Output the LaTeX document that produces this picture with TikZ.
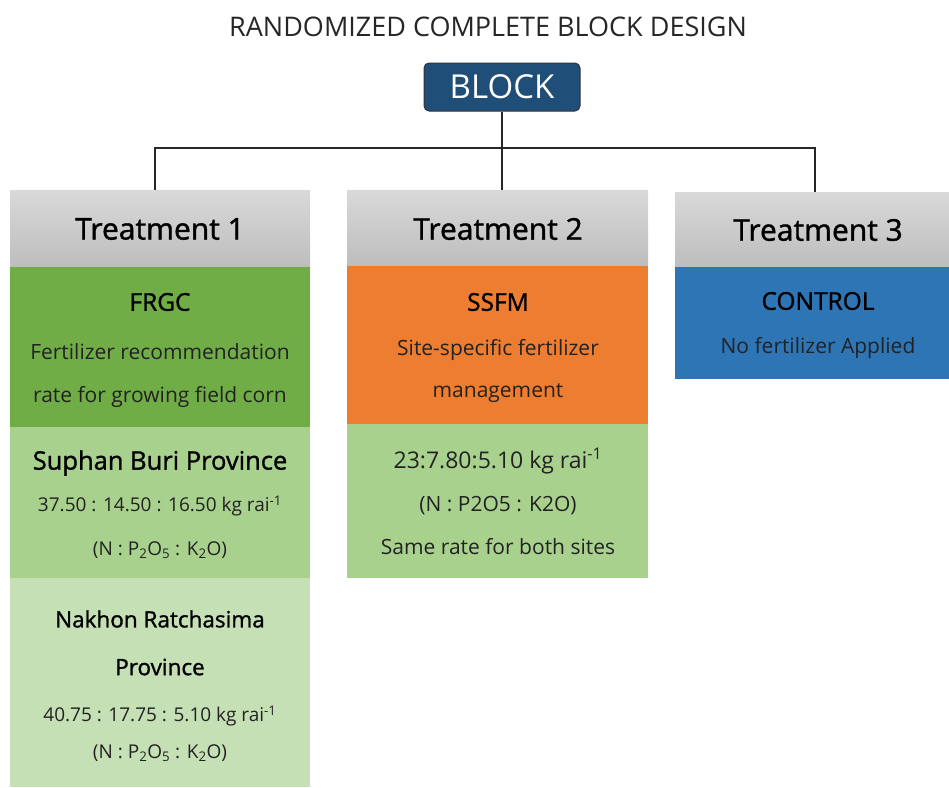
\documentclass[tikz,border=0pt]{standalone}
\usepackage{fontspec}
\setmainfont{Open Sans}
\newfontfamily\heavy[FakeBold=1.2]{Open Sans}
\usetikzlibrary{positioning}
\definecolor{blockblue}{HTML}{1F4E79}
\definecolor{hdrtop}{HTML}{D9D9D9}
\definecolor{hdrbot}{HTML}{BDBDBD}
\definecolor{frgcgreen}{HTML}{70AD47}
\definecolor{midgreen}{HTML}{A9D18E}
\definecolor{palegreen}{HTML}{C5E0B4}
\definecolor{ssfmorange}{HTML}{ED7D31}
\definecolor{ctrlblue}{HTML}{2E75B6}
\definecolor{txtdark}{HTML}{222222}
\newcommand{\fs}[1]{\fontsize{#1}{#1}\selectfont}
\begin{document}
\begin{tikzpicture}[x=1pt,y=-1pt,
  box/.style={rectangle,inner sep=0pt,outer sep=0pt,anchor=north west,draw=none},
  hdr/.style={box,top color=hdrtop,bottom color=hdrbot},
  hdrtxt/.style={inner sep=0pt,font=\heavy\fs{30}},
  abbr/.style={inner sep=0pt,font=\heavy\fs{24.5}},
  desc/.style={inner sep=0pt,text=txtdark,font=\fs{21}},
  ratetxt/.style={inner sep=0pt,text=txtdark,font=\fs{19}},
  link/.style={line width=1.8pt,black!85}]
  \useasboundingbox (0,0) rectangle (949,787);
  % 标题和 BLOCK
  \node[font=\fs{27},text=black!85] (title) at (488,27) {RANDOMIZED COMPLETE BLOCK DESIGN};
  \node[draw=black!80,line width=1pt,fill=blockblue,rounded corners=5pt,
    minimum width=156pt,minimum height=48pt,text=white,font=\fs{33}] (blk) at (502,87) {BLOCK};
  % 三列方框
  \node[hdr,minimum width=300pt,minimum height=77pt] (h1) at (10,190) {};
  \node[box,fill=frgcgreen,minimum width=300pt,minimum height=160pt] (g1) at (10,267) {};
  \node[box,fill=midgreen,minimum width=300pt,minimum height=151pt] (s1) at (10,427) {};
  \node[box,fill=palegreen,minimum width=300pt,minimum height=209pt] (n1) at (10,578) {};
  \node[hdr,minimum width=301pt,minimum height=76pt] (h2) at (347,190) {};
  \node[box,fill=ssfmorange,minimum width=301pt,minimum height=158pt] (o2) at (347,266) {};
  \node[box,fill=midgreen,minimum width=301pt,minimum height=154pt] (r2) at (347,424) {};
  \node[hdr,minimum width=274pt,minimum height=75pt] (h3) at (675,192) {};
  \node[box,fill=ctrlblue,minimum width=274pt,minimum height=112pt] (c3) at (675,267) {};
  % 连线
  \coordinate (bus) at (502,148);
  \draw[link] (blk.south) -- (blk.south |- h2.north);
  \draw[link] ([xshift=-5pt]h1.north) |- (bus) -| ([xshift=3pt]h3.north);
  % Treatment 1
  \node[hdrtxt] (t1) at (160,229) {Treatment 1};
  \node[abbr] (frgc) at (160,302) {FRGC};
  \node[desc] (frgc1) at (160,352) {Fertilizer recommendation};
  \node[desc] (frgc2) at (160,397) {rate for growing field corn};
  \node[abbr,font=\heavy\fs{25.5}] (sb) at (160,463) {Suphan Buri Province};
  \node[ratetxt] (sb1) at (160,506) {37.50 : 14.50 : 16.50 kg rai\textsuperscript{-1}};
  \node[ratetxt] (sb2) at (160,550) {(N : P\textsubscript{2}O\textsubscript{5} : K\textsubscript{2}O)};
  \node[abbr,font=\heavy\fs{22.5}] (nr) at (160,619) {Nakhon Ratchasima};
  \node[abbr,font=\heavy\fs{22.5}] (nr0) at (160,667) {Province};
  \node[ratetxt] (nr1) at (160,716) {40.75 : 17.75 : 5.10 kg rai\textsuperscript{-1}};
  \node[ratetxt] (nr2) at (160,753) {(N : P\textsubscript{2}O\textsubscript{5} : K\textsubscript{2}O)};
  % Treatment 2
  \node[hdrtxt] (t2) at (498,229) {Treatment 2};
  \node[abbr] (ssfm) at (498,302) {SSFM};
  \node[desc] (ssfm1) at (498,350) {Site-specific fertilizer};
  \node[desc] (ssfm2) at (498,393) {management};
  \node[desc,font=\fs{23}] (r21) at (498,461) {23:7.80:5.10 kg rai\textsuperscript{-1}};
  \node[desc] (r22) at (498,506) {(N : P2O5 : K2O)};
  \node[desc] (r23) at (498,547) {Same rate for both sites};
  % Treatment 3
  \node[hdrtxt] (t3) at (818,230) {Treatment 3};
  \node[abbr] (ctrl) at (818,301) {CONTROL};
  \node[desc] (ctrl1) at (818,348) {No fertilizer Applied};
\end{tikzpicture}
\end{document}
